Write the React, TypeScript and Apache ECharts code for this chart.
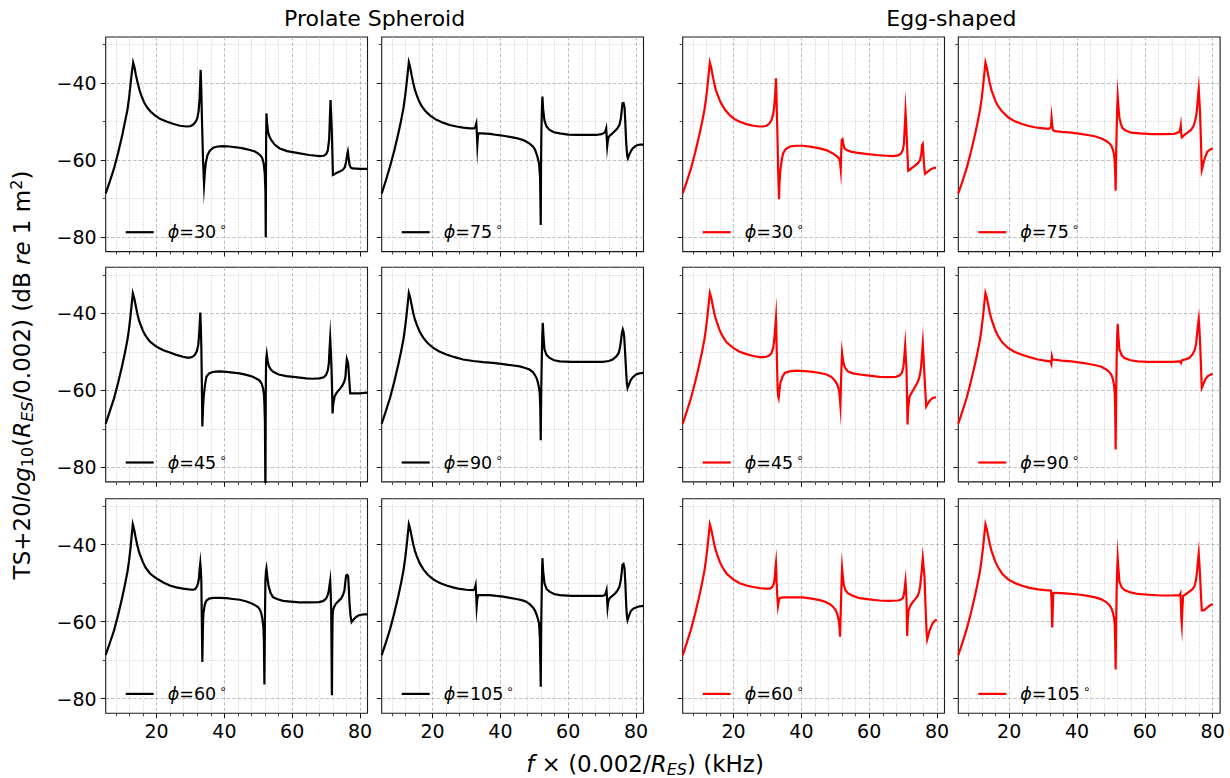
import React, { useEffect, useRef } from "react";
import * as echarts from "echarts";

// ---- axis ranges & ticks ----
const X_MIN = 5;
const X_MAX = 82.2;
const Y_MIN = -83.8;
const Y_MAX = -28.05;
const X_MAJOR = [20, 40, 60, 80];
const X_MINOR = [8, 12, 16, 24, 28, 32, 36, 44, 48, 52, 56, 64, 68, 72, 76];
const Y_MAJOR = [-80, -60, -40];
const Y_MINOR = [-70, -50, -30];

// ---- data: [f, TS] pairs ----
const prolate30 = [[5,-68.7],[6.2,-65.6],[7.45,-62.2],[8.7,-58.0],[9.9,-53.5],[10.7,-50.0],[11.4,-47.0],[11.9,-43.8],[12.35,-40.1],[12.75,-37.0],[13.1,-34.7],[13.5,-36.0],[13.9,-37.9],[14.4,-39.9],[15.0,-41.9],[15.6,-43.5],[16.3,-45.0],[17.2,-46.3],[18.2,-47.4],[19.5,-48.4],[21.0,-49.3],[22.9,-50.0],[24.8,-50.6],[26.9,-51.1],[28.8,-51.3],[30.0,-51.2],[30.8,-50.8],[31.5,-50.1],[32.0,-49.2],[32.4,-47.3],[32.7,-44.0],[33.0,-36.6],[33.2,-42.0],[33.4,-50.0],[33.7,-60.0],[34.0,-66.3],[34.2,-63.6],[34.5,-60.8],[35.0,-58.8],[35.7,-57.6],[36.7,-56.8],[38.0,-56.5],[39.6,-56.4],[41.5,-56.5],[43.5,-56.7],[45.5,-57.0],[47.5,-57.4],[49.0,-57.8],[49.9,-58.3],[50.7,-58.9],[51.2,-59.6],[51.6,-61.0],[51.9,-63.5],[52.1,-68.0],[52.2,-80.1],[52.3,-55.0],[52.4,-47.9],[52.6,-50.5],[52.9,-52.8],[53.3,-54.0],[53.8,-54.8],[54.8,-56.0],[56.3,-57.0],[58.5,-57.7],[62.2,-58.3],[65.0,-58.7],[68.0,-59.0],[69.3,-58.9],[70.0,-58.5],[70.5,-57.5],[70.9,-54.5],[71.15,-48.0],[71.3,-44.4],[71.5,-48.5],[71.7,-53.1],[71.85,-58.5],[72.0,-63.9],[72.4,-63.7],[73.0,-63.4],[74.0,-63.0],[74.9,-62.6],[75.5,-61.9],[75.9,-60.5],[76.2,-58.5],[76.4,-57.8],[76.6,-59.2],[76.9,-61.3],[77.3,-62.0],[77.8,-62.2],[80.0,-62.3],[82.2,-62.3]];
const prolate75 = [[5,-68.7],[6.2,-65.4],[7.45,-61.7],[8.7,-57.6],[9.9,-53.1],[10.7,-49.8],[11.4,-46.6],[11.9,-43.5],[12.35,-40.1],[12.7,-37.2],[13.0,-34.6],[13.4,-35.9],[13.8,-37.9],[14.3,-40.0],[14.8,-41.8],[15.3,-43.1],[16.0,-44.7],[16.8,-46.0],[17.8,-47.2],[19.2,-48.4],[21.0,-49.5],[23.1,-50.3],[25.0,-50.9],[27.1,-51.3],[29.0,-51.6],[31.0,-51.8],[32.2,-51.8],[32.6,-51.4],[32.9,-50.5],[33.05,-53.0],[33.2,-56.1],[33.35,-54.0],[33.5,-53.1],[34.5,-53.1],[36.9,-53.2],[39.0,-53.5],[40.8,-53.7],[42.8,-54.0],[44.7,-54.3],[46.3,-54.7],[47.6,-55.2],[48.7,-55.8],[49.6,-56.5],[50.2,-57.3],[50.6,-58.3],[51.0,-59.4],[51.4,-60.9],[51.7,-64.5],[51.9,-76.9],[52.0,-60.0],[52.1,-52.2],[52.25,-46.5],[52.4,-43.5],[52.6,-46.8],[53.0,-49.8],[53.6,-51.3],[54.5,-52.2],[55.8,-52.8],[57.5,-53.1],[60.0,-53.4],[62.4,-53.5],[65.0,-53.5],[68.2,-53.5],[69.8,-53.3],[70.7,-52.9],[71.0,-52.4],[71.2,-51.8],[71.35,-54.0],[71.5,-56.4],[71.7,-54.8],[72.0,-53.9],[72.8,-53.3],[73.6,-52.6],[74.4,-51.9],[75.1,-50.9],[75.5,-49.3],[75.8,-47.0],[76.0,-45.3],[76.3,-45.2],[76.6,-46.3],[76.8,-49.5],[77.1,-55.7],[77.4,-59.0],[77.6,-59.6],[78.0,-58.6],[78.5,-57.7],[79.0,-57.0],[79.8,-56.4],[80.5,-56.1],[81.3,-56.0],[82.2,-56.0]];
const egg30 = [[5,-68.7],[6.2,-65.6],[7.45,-62.2],[8.7,-58.0],[9.9,-53.5],[10.7,-50.2],[11.4,-47.0],[11.9,-44.0],[12.35,-40.5],[12.7,-37.3],[13.0,-34.7],[13.4,-36.0],[13.8,-37.9],[14.3,-40.1],[14.8,-41.9],[15.3,-43.1],[16.0,-44.7],[16.8,-46.0],[17.8,-47.3],[19.0,-48.5],[20.5,-49.5],[22.0,-50.1],[23.8,-50.7],[25.8,-51.1],[27.7,-51.3],[28.8,-51.3],[29.7,-51.1],[30.5,-50.6],[31.2,-49.6],[31.7,-48.0],[32.0,-46.1],[32.3,-42.5],[32.5,-38.8],[32.65,-43.0],[32.8,-48.7],[33.0,-56.0],[33.1,-60.9],[33.25,-66.0],[33.4,-70.2],[33.55,-66.0],[33.8,-62.6],[34.2,-60.0],[34.6,-58.3],[35.3,-57.2],[36.6,-56.5],[38.5,-56.3],[40.5,-56.3],[43.0,-56.6],[45.4,-57.0],[47.5,-57.5],[49.3,-58.3],[50.4,-59.0],[51.1,-59.6],[51.4,-60.6],[51.6,-62.4],[51.75,-58.0],[51.9,-54.8],[52.1,-54.6],[52.4,-56.0],[52.7,-57.0],[53.5,-57.5],[54.8,-57.9],[56.2,-58.1],[59.0,-58.4],[62.1,-58.7],[65.0,-58.9],[67.0,-59.0],[68.5,-58.8],[69.4,-58.3],[69.9,-57.4],[70.2,-56.1],[70.45,-52.0],[70.7,-47.4],[70.9,-50.5],[71.1,-54.8],[71.3,-59.0],[71.5,-62.8],[71.9,-62.6],[72.4,-62.2],[73.3,-61.6],[74.3,-60.9],[75.0,-60.0],[75.35,-58.5],[75.6,-56.1],[75.8,-55.8],[75.95,-58.0],[76.1,-60.4],[76.3,-62.5],[76.5,-63.6],[76.9,-63.3],[77.3,-63.0],[78.2,-62.4],[79.0,-62.1],[79.7,-62.0]];
const egg75 = [[5,-68.7],[6.2,-65.6],[7.45,-62.2],[8.7,-58.0],[9.9,-53.5],[10.7,-50.2],[11.4,-47.0],[11.9,-44.0],[12.35,-40.5],[12.7,-37.3],[13.0,-34.7],[13.4,-36.0],[13.8,-37.9],[14.3,-40.1],[14.8,-41.9],[15.3,-43.1],[16.0,-44.8],[16.8,-46.1],[17.8,-47.3],[19.7,-48.9],[21.5,-49.9],[23.6,-50.6],[25.5,-51.1],[27.5,-51.5],[29.5,-51.7],[31.5,-51.9],[32.1,-51.7],[32.3,-51.3],[32.5,-49.0],[32.7,-51.0],[32.9,-52.2],[33.4,-52.5],[35.5,-52.7],[38.3,-52.9],[41.0,-53.2],[43.2,-53.5],[45.5,-53.9],[47.2,-54.4],[48.5,-55.0],[49.6,-55.7],[50.2,-56.4],[50.6,-57.4],[50.9,-58.5],[51.1,-60.0],[51.25,-63.0],[51.4,-68.0],[51.55,-58.0],[51.7,-52.2],[51.85,-46.5],[52.0,-43.5],[52.2,-46.0],[52.5,-49.0],[53.0,-50.8],[53.5,-51.8],[54.5,-52.4],[56.0,-52.9],[58.5,-53.1],[61.9,-53.3],[65.0,-53.3],[68.7,-53.2],[69.7,-52.9],[70.2,-52.6],[70.45,-52.0],[70.6,-51.1],[70.75,-53.2],[70.9,-54.1],[71.3,-53.8],[71.7,-53.5],[72.6,-52.9],[73.6,-52.2],[74.3,-51.3],[74.8,-50.0],[75.15,-48.5],[75.4,-46.6],[75.65,-44.0],[75.9,-41.6],[76.1,-44.5],[76.3,-47.9],[76.55,-55.0],[76.8,-62.6],[77.1,-61.6],[77.4,-60.4],[77.9,-59.0],[78.5,-57.8],[79.2,-57.3],[80.0,-57.0]];
const prolate45 = [[5,-68.7],[6.2,-65.5],[7.45,-62.1],[8.7,-57.9],[9.9,-53.4],[10.7,-50.1],[11.4,-46.9],[11.9,-43.9],[12.35,-40.4],[12.7,-37.4],[13.0,-34.8],[13.4,-36.0],[13.8,-37.8],[14.3,-40.0],[14.8,-41.8],[15.3,-43.0],[16.0,-44.6],[16.8,-45.9],[18.0,-47.3],[20.0,-48.7],[22.0,-49.6],[23.9,-50.2],[25.8,-50.8],[27.8,-51.3],[29.0,-51.5],[29.8,-51.5],[30.6,-51.3],[31.3,-50.8],[31.9,-49.8],[32.3,-48.2],[32.6,-45.0],[32.9,-39.8],[33.05,-43.5],[33.2,-48.7],[33.35,-58.0],[33.5,-69.4],[33.7,-64.5],[33.9,-61.6],[34.3,-58.5],[34.7,-56.5],[35.5,-55.6],[36.7,-55.2],[38.5,-55.1],[40.6,-55.2],[42.5,-55.4],[44.5,-55.6],[46.5,-56.0],[48.4,-56.5],[49.5,-57.0],[50.4,-57.5],[51.0,-58.3],[51.4,-59.5],[51.65,-61.0],[51.8,-63.4],[51.95,-68.0],[52.1,-88.0],[52.2,-60.0],[52.3,-52.1],[52.5,-50.6],[52.75,-52.3],[53.1,-53.7],[53.7,-54.6],[54.4,-55.2],[56.0,-55.9],[58.3,-56.3],[61.0,-56.6],[64.1,-56.9],[66.0,-57.0],[68.0,-56.9],[69.3,-56.6],[70.0,-56.0],[70.5,-54.8],[70.8,-53.0],[71.0,-49.5],[71.2,-46.5],[71.4,-50.0],[71.6,-54.7],[71.75,-60.0],[71.9,-66.0],[72.1,-63.5],[72.5,-61.6],[73.0,-60.8],[73.4,-60.3],[74.2,-59.5],[74.9,-58.6],[75.4,-57.6],[75.7,-56.5],[75.9,-54.0],[76.1,-51.9],[76.3,-51.9],[76.5,-53.0],[76.8,-57.0],[77.1,-60.8],[77.8,-60.8],[79.8,-60.8],[82.2,-60.6]];
const prolate90 = [[5,-68.7],[6.2,-65.5],[7.45,-62.0],[8.7,-57.8],[9.9,-53.3],[10.7,-50.0],[11.4,-46.8],[11.9,-43.7],[12.35,-40.3],[12.7,-37.3],[13.0,-34.7],[13.4,-35.9],[13.8,-37.7],[14.3,-39.9],[14.8,-41.6],[15.3,-42.9],[16.2,-44.8],[17.3,-46.4],[18.6,-47.8],[20.2,-49.0],[22.0,-49.9],[24.1,-50.7],[26.5,-51.4],[29.0,-52.0],[32.0,-52.4],[34.9,-52.7],[37.8,-52.9],[40.8,-53.2],[43.3,-53.5],[45.7,-53.8],[47.3,-54.2],[48.6,-54.6],[49.5,-55.2],[50.1,-55.9],[50.7,-56.9],[51.1,-58.1],[51.4,-59.4],[51.6,-60.7],[51.75,-64.0],[51.9,-73.0],[52.05,-60.0],[52.2,-52.0],[52.35,-46.0],[52.5,-42.5],[52.7,-45.8],[53.0,-49.4],[53.6,-50.8],[54.5,-51.6],[55.8,-52.2],[57.5,-52.5],[61.0,-52.6],[64.3,-52.6],[67.5,-52.6],[70.2,-52.6],[72.0,-52.4],[73.1,-52.0],[74.2,-51.2],[74.9,-50.3],[75.3,-48.7],[75.6,-46.8],[75.85,-45.0],[76.1,-44.2],[76.3,-44.8],[76.5,-46.0],[76.8,-50.5],[77.1,-55.5],[77.3,-58.3],[77.5,-59.4],[77.9,-58.5],[78.5,-57.2],[79.2,-56.5],[80.0,-55.9],[81.0,-55.6],[82.2,-55.5]];
const egg45 = [[5,-68.7],[6.2,-65.5],[7.45,-62.0],[8.7,-57.8],[9.9,-53.3],[10.7,-50.0],[11.4,-46.8],[11.9,-43.7],[12.35,-40.3],[12.7,-37.3],[13.0,-34.7],[13.4,-35.9],[13.8,-37.7],[14.3,-39.9],[14.8,-41.6],[15.3,-42.9],[16.0,-44.6],[16.8,-46.0],[18.0,-47.6],[19.9,-49.0],[21.8,-50.0],[23.8,-50.6],[25.8,-51.1],[27.7,-51.4],[28.8,-51.4],[29.7,-51.3],[30.6,-50.9],[31.2,-50.3],[31.7,-48.9],[32.0,-46.8],[32.3,-43.5],[32.5,-41.2],[32.6,-44.5],[32.7,-48.6],[32.85,-54.5],[33.0,-59.8],[33.15,-61.5],[33.3,-62.0],[33.5,-60.3],[33.8,-58.1],[34.4,-56.5],[35.1,-55.5],[36.5,-55.1],[38.5,-54.9],[41.0,-55.0],[43.4,-55.2],[45.5,-55.5],[47.4,-55.9],[48.8,-56.5],[49.8,-57.4],[50.4,-58.2],[50.8,-59.0],[51.1,-60.1],[51.3,-61.6],[51.5,-63.9],[51.65,-59.0],[51.8,-54.6],[52.0,-50.3],[52.2,-51.7],[52.5,-53.3],[53.0,-54.3],[53.7,-55.1],[55.2,-55.6],[57.2,-55.9],[60.0,-56.2],[63.0,-56.5],[65.5,-56.6],[67.9,-56.5],[69.0,-56.1],[69.6,-55.5],[70.0,-54.3],[70.2,-52.9],[70.4,-50.6],[70.6,-48.3],[70.8,-51.5],[71.0,-54.6],[71.15,-61.5],[71.3,-68.9],[71.5,-64.5],[71.9,-61.6],[72.6,-60.5],[73.3,-59.4],[74.0,-58.4],[74.6,-57.2],[75.0,-55.8],[75.3,-53.8],[75.55,-51.0],[75.8,-47.9],[76.0,-51.0],[76.2,-54.6],[76.5,-59.5],[76.8,-64.2],[77.2,-63.6],[77.7,-62.9],[78.2,-62.4],[78.7,-62.0],[79.7,-61.8]];
const egg90 = [[5,-68.7],[6.2,-65.5],[7.45,-62.0],[8.7,-57.8],[9.9,-53.3],[10.7,-50.0],[11.4,-46.8],[11.9,-43.7],[12.35,-40.3],[12.7,-37.3],[13.0,-34.7],[13.4,-35.9],[13.8,-37.7],[14.3,-39.9],[14.8,-41.6],[15.3,-42.9],[16.0,-44.6],[16.8,-46.0],[18.0,-47.6],[19.7,-49.0],[21.5,-50.0],[23.6,-50.7],[26.0,-51.4],[28.5,-52.0],[30.5,-52.3],[32.0,-52.5],[32.3,-52.7],[32.45,-53.1],[32.6,-51.2],[32.75,-51.7],[32.9,-52.0],[35.5,-52.3],[38.3,-52.5],[41.0,-52.8],[43.2,-53.1],[45.5,-53.5],[47.2,-53.9],[48.6,-54.6],[49.6,-55.3],[50.2,-56.1],[50.6,-57.2],[50.9,-58.5],[51.1,-60.3],[51.25,-64.0],[51.4,-75.4],[51.55,-61.0],[51.7,-52.0],[51.85,-46.0],[52.0,-42.7],[52.2,-45.8],[52.5,-49.4],[53.2,-50.9],[54.0,-51.6],[55.8,-52.2],[57.9,-52.5],[61.0,-52.6],[64.8,-52.6],[68.0,-52.6],[70.2,-52.5],[70.5,-52.6],[70.7,-52.9],[70.85,-52.4],[71.0,-52.2],[72.2,-51.9],[73.1,-51.6],[74.1,-50.6],[74.8,-49.4],[75.15,-47.7],[75.4,-45.5],[75.65,-43.2],[75.9,-41.5],[76.1,-44.0],[76.3,-47.7],[76.55,-53.5],[76.8,-59.4],[77.1,-58.8],[77.4,-58.1],[77.9,-57.1],[78.5,-56.4],[79.2,-56.0],[80.0,-55.7]];
const prolate60 = [[5,-68.6],[6.2,-65.6],[7.45,-62.3],[8.7,-58.1],[9.9,-53.6],[10.7,-50.3],[11.4,-47.1],[11.9,-44.1],[12.35,-40.6],[12.7,-37.4],[13.0,-34.7],[13.4,-36.1],[13.8,-38.0],[14.3,-40.1],[14.8,-41.8],[15.3,-43.0],[16.0,-44.6],[16.8,-46.0],[18.2,-47.6],[20.0,-48.8],[22.0,-49.8],[23.9,-50.6],[25.8,-51.1],[27.8,-51.4],[29.5,-51.6],[30.8,-51.7],[31.4,-51.5],[31.8,-51.0],[32.2,-50.1],[32.5,-48.8],[32.7,-46.5],[32.9,-44.8],[33.05,-46.5],[33.2,-49.3],[33.35,-60.0],[33.5,-70.5],[33.65,-62.0],[33.8,-57.9],[34.2,-55.6],[34.7,-54.5],[35.5,-54.0],[36.7,-53.8],[38.5,-53.8],[40.6,-53.9],[42.5,-54.1],[44.5,-54.3],[46.3,-54.7],[47.9,-55.2],[49.0,-55.7],[49.9,-56.2],[50.5,-56.9],[50.9,-57.9],[51.2,-59.3],[51.5,-61.4],[51.65,-65.0],[51.8,-76.3],[51.95,-60.0],[52.1,-49.3],[52.25,-47.0],[52.4,-46.2],[52.7,-48.6],[53.0,-50.6],[53.6,-52.5],[54.3,-53.6],[55.5,-54.1],[57.3,-54.6],[59.5,-54.8],[62.2,-55.0],[65.0,-55.0],[68.0,-54.9],[69.2,-54.6],[70.0,-54.0],[70.5,-53.0],[70.8,-51.9],[71.0,-50.5],[71.2,-49.3],[71.35,-52.5],[71.5,-57.1],[71.6,-68.0],[71.7,-79.1],[71.8,-66.0],[71.9,-59.0],[72.0,-57.1],[72.4,-56.1],[72.9,-55.3],[73.7,-54.6],[74.4,-54.0],[74.9,-53.2],[75.4,-51.9],[75.65,-49.8],[75.9,-48.0],[76.2,-47.8],[76.5,-48.2],[76.7,-51.5],[76.9,-55.3],[77.2,-58.5],[77.5,-60.1],[78.1,-59.4],[78.8,-58.8],[79.5,-58.4],[80.3,-58.2],[81.2,-58.1],[82.2,-58.1]];
const prolate105 = [[5,-68.7],[6.2,-65.5],[7.45,-62.0],[8.7,-57.8],[9.9,-53.3],[10.7,-50.0],[11.4,-46.8],[11.9,-43.7],[12.35,-40.3],[12.7,-37.3],[13.0,-34.7],[13.4,-35.9],[13.8,-37.7],[14.3,-39.9],[14.8,-41.6],[15.3,-42.9],[16.2,-44.8],[17.3,-46.4],[18.6,-47.8],[20.2,-49.0],[22.0,-49.9],[24.1,-50.6],[26.0,-51.1],[28.0,-51.5],[30.0,-51.7],[32.0,-51.8],[32.4,-51.5],[32.7,-50.5],[32.85,-53.0],[33.0,-56.1],[33.2,-54.0],[33.5,-53.1],[35.0,-53.1],[36.9,-53.1],[38.8,-53.3],[40.8,-53.5],[42.8,-53.8],[44.7,-54.1],[46.3,-54.4],[47.6,-54.8],[48.7,-55.5],[49.6,-56.3],[50.2,-57.1],[50.6,-58.0],[51.0,-59.1],[51.4,-60.4],[51.65,-64.5],[51.9,-76.9],[52.05,-60.0],[52.2,-51.8],[52.3,-46.5],[52.4,-43.5],[52.6,-46.8],[53.0,-50.0],[53.6,-51.5],[54.5,-52.2],[55.8,-52.8],[57.5,-53.1],[61.0,-53.3],[64.3,-53.3],[67.5,-53.3],[70.2,-53.3],[70.7,-53.1],[71.0,-52.8],[71.3,-51.8],[71.45,-54.0],[71.6,-56.3],[71.8,-54.8],[72.2,-53.9],[73.0,-53.3],[73.9,-52.6],[74.6,-51.8],[75.1,-50.9],[75.5,-49.2],[75.8,-47.0],[76.0,-45.2],[76.3,-45.0],[76.6,-46.1],[76.85,-50.0],[77.1,-55.7],[77.3,-58.5],[77.5,-59.6],[77.9,-58.5],[78.5,-57.2],[79.2,-56.6],[80.0,-56.3],[81.0,-56.0],[82.2,-55.9]];
const egg60 = [[5,-68.7],[6.2,-65.5],[7.45,-62.0],[8.7,-57.8],[9.9,-53.3],[10.7,-50.0],[11.4,-46.8],[11.9,-43.7],[12.35,-40.3],[12.7,-37.3],[13.0,-34.7],[13.4,-35.9],[13.8,-37.7],[14.3,-39.9],[14.8,-41.6],[15.3,-42.9],[16.0,-44.6],[16.8,-46.0],[18.0,-47.6],[19.9,-49.0],[21.8,-50.0],[23.8,-50.6],[25.8,-51.0],[27.7,-51.3],[29.3,-51.4],[30.7,-51.4],[31.3,-51.1],[31.7,-50.5],[32.0,-49.5],[32.2,-47.9],[32.35,-46.0],[32.5,-44.8],[32.6,-47.0],[32.7,-50.0],[32.9,-53.5],[33.1,-55.9],[33.3,-54.8],[33.6,-53.9],[34.5,-53.7],[35.6,-53.7],[38.0,-53.7],[40.5,-53.7],[43.0,-54.0],[45.4,-54.4],[47.0,-54.8],[48.3,-55.4],[49.3,-56.1],[50.1,-57.0],[50.6,-58.0],[51.0,-59.6],[51.2,-61.0],[51.4,-63.9],[51.55,-59.0],[51.7,-54.4],[51.85,-49.5],[52.0,-46.1],[52.2,-48.0],[52.5,-50.5],[53.0,-51.8],[53.7,-52.6],[55.2,-53.3],[57.2,-53.9],[60.0,-54.2],[63.0,-54.5],[65.8,-54.6],[68.4,-54.5],[69.3,-54.3],[69.9,-53.9],[70.2,-53.0],[70.4,-51.8],[70.55,-50.5],[70.7,-49.4],[70.85,-51.5],[71.0,-54.4],[71.1,-59.0],[71.2,-63.7],[71.35,-60.0],[71.6,-57.0],[72.0,-56.1],[72.6,-55.2],[73.5,-54.2],[74.3,-53.3],[74.7,-52.3],[75.0,-50.9],[75.25,-48.8],[75.5,-46.6],[75.65,-45.0],[75.8,-43.5],[76.0,-45.5],[76.3,-48.3],[76.55,-54.5],[76.8,-60.4],[76.95,-63.0],[77.1,-64.6],[77.4,-63.6],[77.7,-62.6],[78.2,-61.4],[78.7,-60.4],[79.3,-59.8],[79.9,-59.4]];
const egg105 = [[5,-68.7],[6.2,-65.5],[7.45,-62.0],[8.7,-57.8],[9.9,-53.3],[10.7,-50.0],[11.4,-46.8],[11.9,-43.7],[12.35,-40.3],[12.7,-37.3],[13.0,-34.7],[13.4,-35.9],[13.8,-37.7],[14.3,-39.9],[14.8,-41.6],[15.3,-42.9],[16.0,-44.6],[16.8,-46.0],[18.0,-47.6],[19.7,-49.0],[21.5,-49.9],[23.6,-50.6],[26.0,-51.2],[28.5,-51.6],[30.5,-51.8],[32.3,-51.9],[32.4,-52.8],[32.5,-54.4],[32.6,-58.0],[32.7,-61.5],[32.85,-57.0],[33.0,-52.6],[33.4,-52.5],[35.5,-52.6],[38.3,-52.8],[41.0,-53.0],[43.2,-53.3],[45.4,-53.7],[47.2,-54.2],[48.6,-54.9],[49.6,-55.7],[50.2,-56.6],[50.6,-57.7],[50.9,-58.9],[51.1,-60.4],[51.25,-64.5],[51.4,-72.4],[51.55,-60.0],[51.7,-51.8],[51.85,-46.5],[52.0,-43.4],[52.2,-46.0],[52.5,-49.6],[53.2,-51.1],[54.0,-51.8],[55.8,-52.4],[57.9,-52.8],[61.0,-53.0],[64.8,-53.2],[68.0,-53.2],[70.2,-53.1],[70.4,-52.9],[70.5,-52.7],[70.65,-55.5],[70.8,-59.5],[70.9,-60.6],[71.05,-57.0],[71.3,-53.3],[72.2,-52.8],[73.1,-52.2],[74.0,-51.6],[74.6,-50.9],[75.1,-49.2],[75.4,-47.0],[75.65,-44.5],[75.9,-42.3],[76.1,-45.0],[76.3,-48.3],[76.55,-53.0],[76.8,-57.1],[77.1,-57.1],[77.5,-57.0],[78.2,-56.5],[79.0,-55.9],[80.0,-55.4]];

// panel order: rows x columns
const PANEL_DATA = [
  [prolate30, prolate75, egg30, egg75],
  [prolate45, prolate90, egg45, egg90],
  [prolate60, prolate105, egg60, egg105],
];
const PANEL_ANGLES = [
  ["30", "75", "30", "75"],
  ["45", "90", "45", "90"],
  ["60", "105", "60", "105"],
];
const COL_COLORS = ["#000000", "#000000", "#ff0000", "#ff0000"];
const COL_TITLES = ["Prolate Spheroid", "Egg-shaped"];

// layout (px)
const COL_LEFT = [105.7, 381.7, 682.7, 958.3];
const ROW_TOP = [37, 267.3, 498.7];
const PANEL_W = 261.8;
const PANEL_H = 214.6;

const FONT = "DejaVu Sans";
const TICK_FS = 19;

const minusFmt = (v: number) => (v < 0 ? "\u2212" + Math.abs(v) : String(v));

export default function App() {
  const ref = useRef<HTMLDivElement>(null);
  useEffect(() => {
    if (!ref.current) return;
    const chart = echarts.init(ref.current, undefined, { renderer: "svg" });
    const grids: any[] = [];
    const xAxes: any[] = [];
    const yAxes: any[] = [];
    const series: any[] = [];
    const legends: any[] = [];
    const nameMap: Record<string, string> = {};

    for (let r = 0; r < 3; r++) {
      for (let c = 0; c < 4; c++) {
        const g = r * 4 + c;
        grids.push({
          left: COL_LEFT[c],
          top: ROW_TOP[r],
          width: PANEL_W,
          height: PANEL_H,
          show: true,
          borderColor: "#1a1a1a",
          borderWidth: 1.1,
          backgroundColor: "transparent",
          containLabel: false,
        });
        const showX = r === 2;
        const showY = c === 0;
        xAxes.push({
          gridIndex: g, type: "value", min: X_MIN, max: X_MAX, position: "bottom",
          axisLine: { show: false },
          axisTick: { show: true, customValues: X_MAJOR, length: 5, lineStyle: { color: "#1a1a1a", width: 1 } },
          axisLabel: { show: showX, customValues: X_MAJOR, margin: 8, fontFamily: FONT, fontSize: TICK_FS, color: "#000" },
          splitLine: { show: true, lineStyle: { type: [3.5, 2], color: "#b0b0b0", width: 0.8 } },
        });
        xAxes.push({
          gridIndex: g, type: "value", min: X_MIN, max: X_MAX, position: "bottom",
          axisLine: { show: false },
          axisTick: { show: true, customValues: X_MINOR, length: 3, lineStyle: { color: "#1a1a1a", width: 0.8 } },
          axisLabel: { show: false },
          splitLine: { show: true, lineStyle: { type: [1, 1.6], color: "#c4c4c4", width: 0.8 } },
        });
        yAxes.push({
          gridIndex: g, type: "value", min: Y_MIN, max: Y_MAX, position: "left",
          axisLine: { show: false },
          axisTick: { show: true, customValues: Y_MAJOR, length: 5, lineStyle: { color: "#1a1a1a", width: 1 } },
          axisLabel: { show: showY, customValues: Y_MAJOR, margin: 9, fontFamily: FONT, fontSize: TICK_FS, color: "#000", formatter: minusFmt },
          splitLine: { show: true, lineStyle: { type: [3.5, 2], color: "#b0b0b0", width: 0.8 } },
        });
        yAxes.push({
          gridIndex: g, type: "value", min: Y_MIN, max: Y_MAX, position: "left",
          axisLine: { show: false },
          axisTick: { show: true, customValues: Y_MINOR, length: 3, lineStyle: { color: "#1a1a1a", width: 0.8 } },
          axisLabel: { show: false },
          splitLine: { show: true, lineStyle: { type: [1, 1.6], color: "#c4c4c4", width: 0.8 } },
        });
        const color = COL_COLORS[c];
        const name = `s${g}`;
        nameMap[name] = PANEL_ANGLES[r][c];
        series.push({
          name,
          type: "line",
          xAxisIndex: 2 * g,
          yAxisIndex: 2 * g,
          data: PANEL_DATA[r][c],
          showSymbol: false,
          symbol: "none",
          color,
          itemStyle: { color },
          lineStyle: { color, width: 2.2, join: "miter", miterLimit: 20 },
          clip: true,
          z: 5,
        });
        const centerY = ROW_TOP[r] + PANEL_H - 19.4;
        legends.push({
          show: true,
          data: [name],
          left: COL_LEFT[c] + 20,
          top: centerY - 11,
          padding: 0,
          icon: "rect",
          itemWidth: 28,
          itemHeight: 2.2,
          selectedMode: false,
          formatter: (n: string) => `{i|\u03d5}{n|=${nameMap[n]}}{s|\u2218}`,
          textStyle: {
            fontFamily: FONT,
            fontSize: 17,
            color: "#000",
            rich: {
              i: { fontFamily: FONT, fontSize: 17.5, fontStyle: "italic", lineHeight: 22, padding: [0, 0, 0, 9], color: "#000" },
              n: { fontFamily: FONT, fontSize: 17.5, lineHeight: 22, color: "#000" },
              s: { fontFamily: FONT, fontSize: 12, lineHeight: 12, verticalAlign: "top", padding: [0, 0, 0, 3], color: "#000" },
            },
          },
        });
      }
    }

    const titleCenters = [
      (COL_LEFT[0] + COL_LEFT[1] + PANEL_W) / 2,
      (COL_LEFT[2] + COL_LEFT[3] + PANEL_W) / 2,
    ];

    const option: any = {
      animation: false,
      backgroundColor: "#ffffff",
      grid: grids,
      xAxis: xAxes,
      yAxis: yAxes,
      series,
      legend: legends,
      graphic: [
        {
          type: "text", x: titleCenters[0], y: 18, z: 10,
          style: { text: COL_TITLES[0], fontFamily: FONT, fontSize: 22, fill: "#000", align: "center", verticalAlign: "middle" },
        },
        {
          type: "text", x: titleCenters[1], y: 18, z: 10,
          style: { text: COL_TITLES[1], fontFamily: FONT, fontSize: 22, fill: "#000", align: "center", verticalAlign: "middle" },
        },
        {
          type: "text", x: 645, y: 764, z: 10,
          style: {
            text: "{it|f}{n| \u00d7 (0.002/}{it|R}{sb|ES}{n|) (kHz)}",
            align: "center", verticalAlign: "middle", fill: "#000",
            fontFamily: FONT, fontSize: 23,
            rich: {
              it: { fontFamily: FONT, fontSize: 23, fontStyle: "italic", lineHeight: 27, fill: "#000" },
              n: { fontFamily: FONT, fontSize: 23, lineHeight: 27, fill: "#000" },
              sb: { fontFamily: FONT, fontSize: 16, fontStyle: "italic", lineHeight: 16, verticalAlign: "bottom", fill: "#000" },
            },
          },
        },
        {
          type: "text", x: 22, y: 375, rotation: Math.PI / 2, z: 10,
          style: {
            text: "{n|TS+20}{it|log}{sb|10}{n|(}{it|R}{sbi|ES}{n|/0.002) (dB }{it|re}{n| 1 m}{sp|2}{n|)}",
            align: "center", verticalAlign: "middle", fill: "#000",
            fontFamily: FONT, fontSize: 23,
            rich: {
              it: { fontFamily: FONT, fontSize: 23, fontStyle: "italic", lineHeight: 27, fill: "#000" },
              n: { fontFamily: FONT, fontSize: 23, lineHeight: 27, fill: "#000" },
              sb: { fontFamily: FONT, fontSize: 16, lineHeight: 16, verticalAlign: "bottom", fill: "#000" },
              sbi: { fontFamily: FONT, fontSize: 16, fontStyle: "italic", lineHeight: 16, verticalAlign: "bottom", fill: "#000" },
              sp: { fontFamily: FONT, fontSize: 16, lineHeight: 16, verticalAlign: "top", fill: "#000" },
            },
          },
        },
      ],
    };
    chart.setOption(option);
    return () => chart.dispose();
  }, []);
  return (
    <div
      ref={ref}
      style={{ position: "absolute", left: 0, top: 0, width: 1230, height: 778, background: "#fff" }}
    />
  );
}
